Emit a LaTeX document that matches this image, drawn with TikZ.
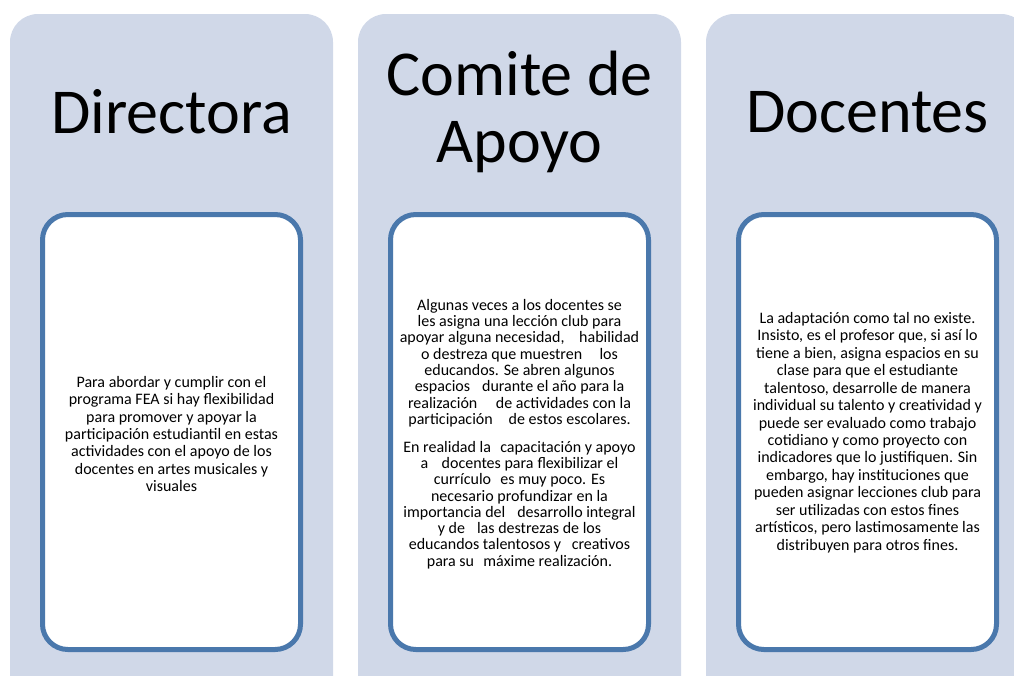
\documentclass[tikz,border=0pt]{standalone}
\usepackage{fontspec}
\setmainfont{Carlito}
\definecolor{outerfill}{RGB}{208,216,232}
\definecolor{innerline}{RGB}{74,120,172}
\begin{document}
\begin{tikzpicture}[x=0.75pt,y=-0.75pt,
  lane/.style={fill=outerfill, draw=none, rounded corners=21pt},
  card/.style={fill=white, draw=innerline, line width=3.75pt, rounded corners=19pt},
  title/.style={font=\fontsize{48}{50}\selectfont, anchor=base, inner sep=0pt},
  body/.style={font=\fontsize{12}{13.1}\selectfont, align=center, inner sep=0pt, text=black},
  tightbody/.style={body, font=\fontsize{12}{12.2}\selectfont}]
\useasboundingbox (0,0) rectangle (1014,675);
\clip (0,0) rectangle (1014,675);
% lanes
\draw[lane] (10,14) rectangle (333,740);
\draw[lane] (358,14) rectangle (681,740);
\draw[lane] (706,14) rectangle (1029,740);
% cards
\draw[card] (42.5,214.5) rectangle (300.5,649.5);
\draw[card] (390.5,214.5) rectangle (648.5,649.5);
\draw[card] (738.5,214.5) rectangle (996.5,649.5);
% titles
\node[title] (t1) at (171.5,133) {Directora};
\node[title] (t2a) at (519.5,95) {Comite de};
\node[title] (t2b) at (519.5,162) {Apoyo};
\node[title] (t3) at (867.5,132) {Docentes};
% bodies
\node[body] (b1) at (171.5,434) {Para abordar y cumplir con el\\
programa FEA si hay flexibilidad\\
para promover y apoyar la\\
participación estudiantil en estas\\
actividades con el apoyo de los\\
docentes en artes musicales y\\
visuales};
\node[tightbody] (b2) at (519.5,434) {Algunas veces a los docentes se\\
les asigna una lección club para\\
apoyar alguna necesidad,\hspace{11pt}habilidad\\
o destreza que muestren\hspace{13pt}los\\
educandos. Se abren algunos\\
espacios\hspace{9pt}durante el año para la\\
realización\hspace{14pt}de actividades con la\\
participación\hspace{12pt}de estos escolares.\\[8.8pt]
En realidad la\hspace{7pt}capacitación y apoyo\\
a\hspace{10pt}docentes para\hspace{3pt}flexibilizar el\\
currículo\hspace{7pt}es muy poco. Es\\
necesario profundizar\hspace{3pt}en la\\
importancia del\hspace{9pt}desarrollo integral\\
y de\hspace{9pt}las destrezas de los\\
educandos talentosos y\hspace{8pt}creativos\\
para su\hspace{7pt}máxime realización.};
\node[body] (b3) at (867.5,432.5) {La adaptación como tal no existe.\\
Insisto, es el profesor que, si así lo\\
tiene a bien, asigna espacios en su\\
clase para que el estudiante\\
talentoso, desarrolle de manera\\
individual su talento y creatividad y\\
puede ser evaluado como trabajo\\
cotidiano y como proyecto con\\
indicadores que lo justifiquen. Sin\\
embargo, hay instituciones que\\
pueden asignar lecciones club para\\
ser utilizadas con estos fines\\
artísticos, pero lastimosamente las\\
distribuyen para otros fines.};
\end{tikzpicture}
\end{document}
